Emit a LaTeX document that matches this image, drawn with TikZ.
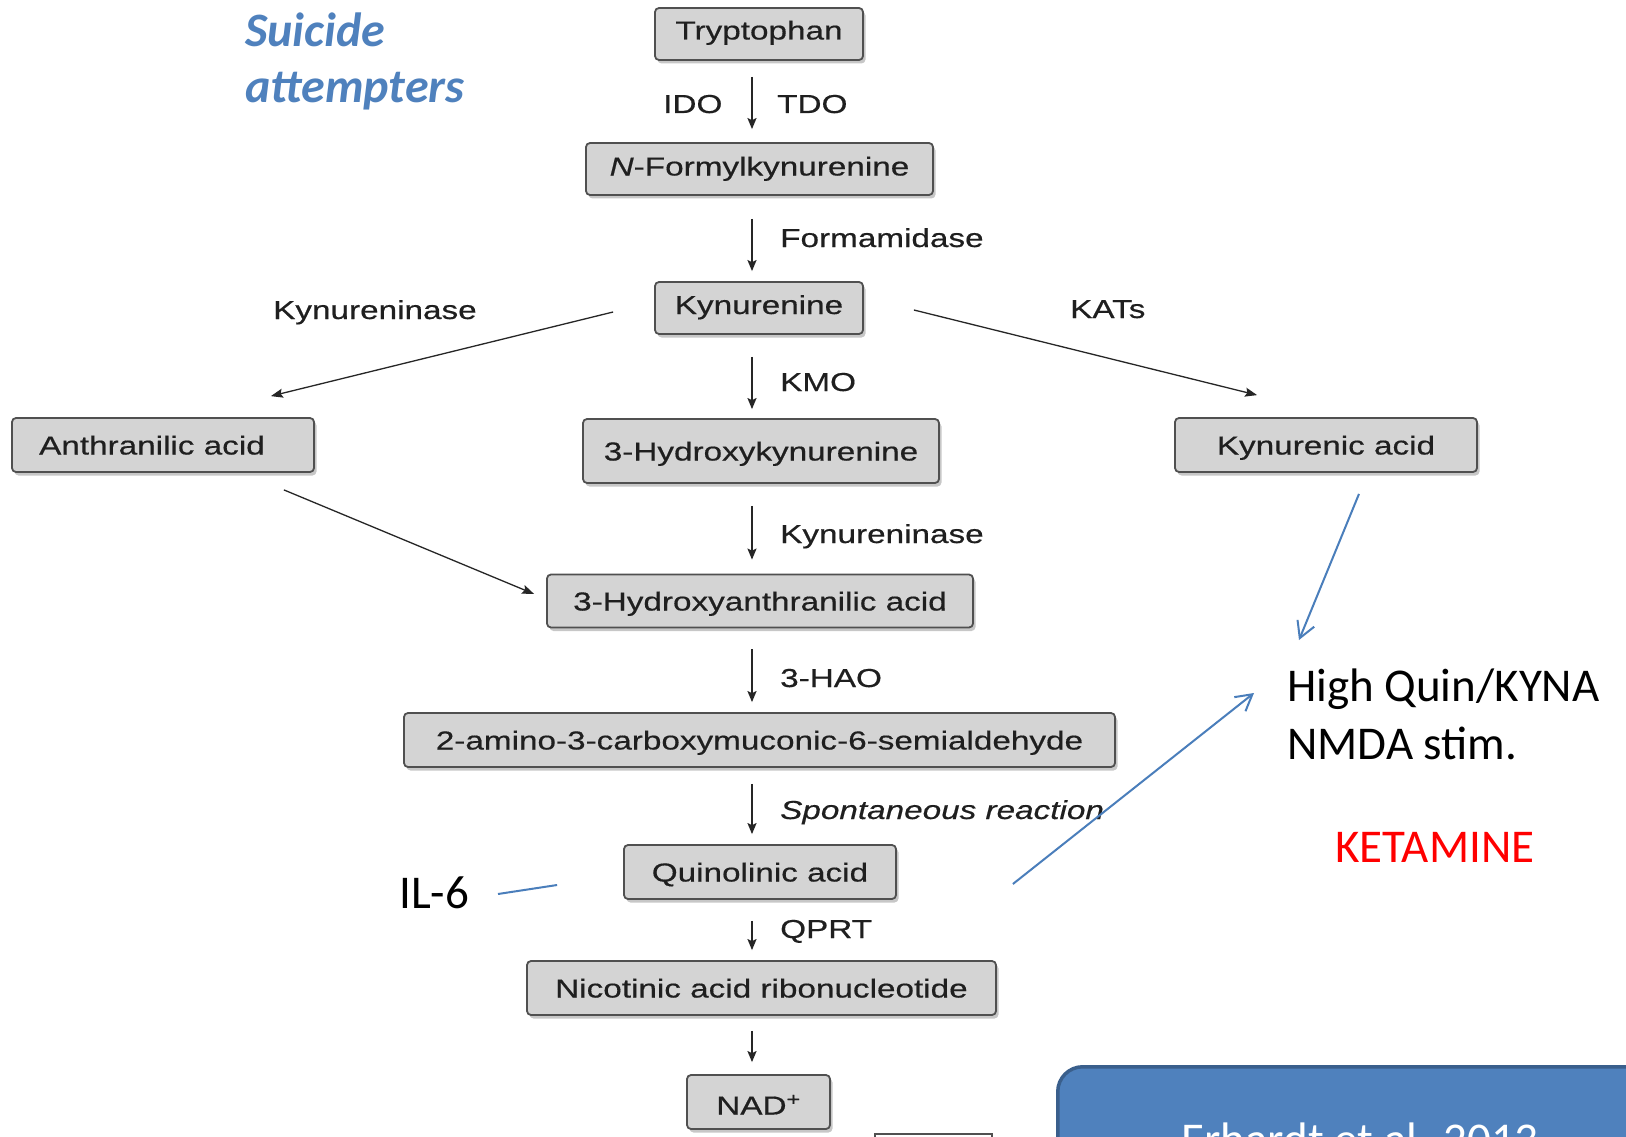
\documentclass[tikz,border=0pt]{standalone}
\usepackage{fontspec}
\newfontfamily\figfont[FakeStretch=1.28,FakeBold=0.5]{Liberation Sans}
\newfontfamily\calfont{Carlito}
\usetikzlibrary{arrows.meta,shadows,calc}
\definecolor{boxfill}{HTML}{D4D4D4}
\definecolor{boxline}{HTML}{505050}
\definecolor{accblue}{HTML}{4F81BD}
\definecolor{linblue}{HTML}{4A7EBB}
\definecolor{darkblue}{HTML}{3A5F8C}
\begin{document}
\begin{tikzpicture}[x=1pt,y=-1pt,
  met/.style={draw=boxline,line width=1.8pt,fill=boxfill,rounded corners=4pt,inner sep=0pt,
    minimum height=54pt,text=black!88,font=\figfont\fontsize{26pt}{31pt}\selectfont,
    text height=19pt,text depth=0pt,
    drop shadow={shadow xshift=2.5pt,shadow yshift=-3.5pt,fill=black,opacity=0.22}},
  enz/.style={font=\figfont\fontsize{26pt}{31pt}\selectfont,text=black!88,inner sep=0pt,anchor=base west},
  flow/.style={-{Stealth[length=11pt,width=9pt,inset=2pt]},line width=1.6pt,black!85},
  diag/.style={-{Stealth[length=12pt,width=9pt,inset=2pt]},line width=1.3pt,black!85},
  big/.style={font=\calfont\fontsize{47pt}{56pt}\selectfont,inner sep=0pt,anchor=base west},
  sui/.style={font=\calfont\fontsize{48pt}{56pt}\selectfont\bfseries\itshape,text=accblue,inner sep=0pt,anchor=base west},
  blu/.style={-{Straight Barb[length=16pt,width=18pt]},line width=2pt,linblue}
]
\useasboundingbox (0,0) rectangle (1626,1137);
\clip (0,0) rectangle (1626,1137);
\fill[white] (0,0) rectangle (1626,1137);

% metabolite boxes
\node[met,minimum width=208pt,minimum height=52pt,text depth=8pt] (tryp) at (759,34) {Tryptophan};
\node[met,minimum width=347pt,minimum height=52pt,text depth=6pt] (nfk) at (759.5,169) {\textit{N}-Formylkynurenine};
\node[met,minimum width=208pt,minimum height=52pt,text depth=7pt] (kyn) at (759,308) {Kynurenine};
\node[met,minimum width=302pt] (anth) at (163,445) {Anthranilic acid\hspace*{22pt}};
\node[met,minimum width=356pt,minimum height=64pt] (hk) at (761,451) {3-Hydroxykynurenine};
\node[met,minimum width=302pt] (kyna) at (1326,445) {Kynurenic acid};
\node[met,minimum width=426pt,minimum height=53pt] (haa) at (760,601) {3-Hydroxyanthranilic acid};
\node[met,minimum width=711pt] (acms) at (759.5,740) {2-amino-3-carboxymuconic-6-semialdehyde};
\node[met,minimum width=272pt] (quin) at (760,872) {Quinolinic acid};
\node[met,minimum width=469pt] (narn) at (761.5,988) {Nicotinic acid ribonucleotide};
\node[met,minimum width=143pt,text height=25pt] (nad) at (758.5,1102) {NAD\textsuperscript{+}};

% vertical reaction arrows
\draw[flow,shorten <=16pt,shorten >=13pt] ([xshift=-7pt]tryp.south) -- ([xshift=-7pt]tryp.south |- nfk.north);
\draw[flow,shorten <=23pt,shorten >=10pt] ([xshift=-7.5pt]nfk.south) -- ([xshift=-7.5pt]nfk.south |- kyn.north);
\draw[flow,shorten <=22pt,shorten >=9pt] ([xshift=-7pt]kyn.south) -- ([xshift=-7pt]kyn.south |- hk.north);
\draw[flow,shorten <=22pt,shorten >=14pt] ([xshift=-9pt]hk.south) -- ([xshift=-9pt]hk.south |- haa.north);
\draw[flow,shorten <=21pt,shorten >=10pt] ([xshift=-8pt]haa.south) -- ([xshift=-8pt]haa.south |- acms.north);
\draw[flow,shorten <=16pt,shorten >=10pt] ([xshift=-7.5pt]acms.south) -- ([xshift=-7.5pt]acms.south |- quin.north);
\draw[flow,shorten <=21pt,shorten >=10pt] ([xshift=-8pt]quin.south) -- ([xshift=-8pt]quin.south |- narn.north);
\draw[flow,shorten <=15pt,shorten >=12pt] ([xshift=-9.5pt]narn.south) -- ([xshift=-9.5pt]narn.south |- nad.north);

% enzyme labels
\node[enz] (ido) at (663,113) {IDO};
\node[enz] (tdo) at (777,113) {TDO};
\node[enz] (form) at (780,247) {Formamidase};
\node[enz] (kmo) at (780,391) {KMO};
\node[enz] (kyn2) at (780,543) {Kynureninase};
\node[enz] (hao) at (780,687) {3-HAO};
\node[enz] (spon) at (780,819) {\textit{Spontaneous reaction}};
\node[enz] (qprt) at (780,938) {QPRT};
\node[enz] (kyn1) at (273,319) {Kynureninase};
\node[enz] (kats) at (1070,318) {KATs};

% diagonal arrows
\draw[diag] ($(kyn.west)+(-41,4)$) -- ($(anth.north east)+(-44,-21)$);
\draw[diag] ($(kyn.east)+(50,2)$) -- ($(kyna.north west)+(83,-22)$);
\draw[diag] ($(anth.south east)+(-31,17)$) -- ($(haa.west)+(-12,-7)$);

% slide annotations
\node[sui] (sui1) at (245,47) {Suicide};
\node[sui] (sui2) at (245,103) {attempters};
\node[big] (hq1) at (1287,701) {High Quin/KYNA};
\node[big] (hq2) at (1287,759) {NMDA stim.};
\node[big,text=red] (ket) at (1335,862) {KETAMINE};
\node[big] (il6) at (399,908) {IL-6};

\draw[blu] ($(kyna.south)+(33,21)$) -- ($(hq1.base west)+(12,-61)$);
\draw[blu] ($(quin.east)+(116,12)$) -- ($(hq1.base west)+(-33,-8)$);
\draw[linblue,line width=2pt] ($(il6.base west)+(99,-14)$) -- ($(quin.west)+(-66,13)$);

% citation box (cut by the page edge)
\node[draw=darkblue,fill=accblue,rounded corners=25pt,line width=3.5pt,
      minimum width=608pt,minimum height=240pt,anchor=north west,inner sep=0pt] (erh) at (1056,1065) {};
\node[font=\calfont\fontsize{47pt}{56pt}\selectfont,text=white,anchor=base,inner sep=0pt] (erht) at (1360,1155) {Erhardt et al. 2013};

% fragment of a further box at the bottom edge
\draw[boxline,line width=1.6pt] (875,1142) -- (875,1134) -- (992,1134) -- (992,1142);
\end{tikzpicture}
\end{document}
